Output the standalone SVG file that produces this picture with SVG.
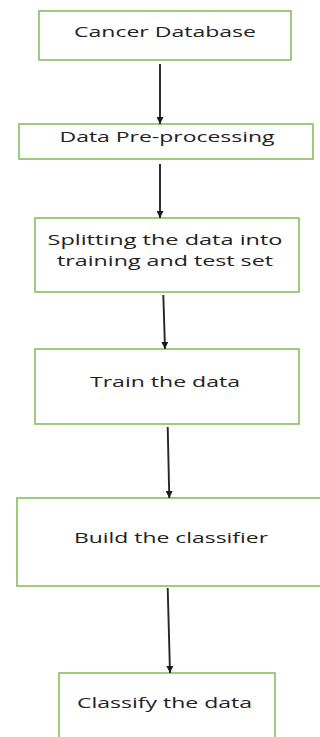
<svg xmlns="http://www.w3.org/2000/svg" width="320" height="737" viewBox="0 0 320 737">
<style>
.box{fill:#ffffff;stroke:#86bf5f;stroke-width:1.6}
.lbl{font-family:"Open Sans","Noto Sans","Liberation Sans",sans-serif;font-size:14.5px;fill:#222222;text-anchor:middle}
.conn{stroke:#262626;stroke-width:1.9;fill:none}
</style>
<defs>
<marker id="ah" markerWidth="7" markerHeight="7" viewBox="0 0 7 7" refX="7" refY="3.5" orient="auto" markerUnits="userSpaceOnUse">
<path d="M0,0 L7,3.5 L0,7 Z" fill="#1a1a1a"/>
</marker>
</defs>
<rect width="320" height="737" fill="#ffffff"/>
<g id="n1"><rect class="box" x="39" y="11" width="252" height="49"/><text class="lbl" x="165" y="37" textLength="182" lengthAdjust="spacingAndGlyphs">Cancer Database</text></g>
<g id="n2"><rect class="box" x="19" y="124" width="294" height="35"/><text class="lbl" x="167" y="141.5" textLength="215" lengthAdjust="spacingAndGlyphs">Data Pre-processing</text></g>
<g id="n3"><rect class="box" x="35" y="218" width="264" height="74"/><text class="lbl" x="165" y="245" textLength="235" lengthAdjust="spacingAndGlyphs">Splitting the data into</text><text class="lbl" x="165" y="266" textLength="216" lengthAdjust="spacingAndGlyphs">training and test set</text></g>
<g id="n4"><rect class="box" x="35" y="349" width="264" height="75"/><text class="lbl" x="165" y="387" textLength="150" lengthAdjust="spacingAndGlyphs">Train the data</text></g>
<g id="n5"><rect class="box" x="17" y="498" width="320" height="88"/><text class="lbl" x="171" y="543" textLength="194" lengthAdjust="spacingAndGlyphs">Build the classifier</text></g>
<g id="n6"><rect class="box" x="59" y="673" width="216" height="80"/><text class="lbl" x="164.5" y="708" textLength="175" lengthAdjust="spacingAndGlyphs">Classify the data</text></g>
<g id="connectors">
<line class="conn" x1="160" y1="64" x2="160" y2="124" marker-end="url(#ah)"/>
<line class="conn" x1="160" y1="164" x2="160" y2="218" marker-end="url(#ah)"/>
<line class="conn" x1="163.3" y1="295" x2="165" y2="349" marker-end="url(#ah)"/>
<line class="conn" x1="167.7" y1="427" x2="169.3" y2="498" marker-end="url(#ah)"/>
<line class="conn" x1="167.7" y1="588" x2="170" y2="673" marker-end="url(#ah)"/>
</g>
</svg>
